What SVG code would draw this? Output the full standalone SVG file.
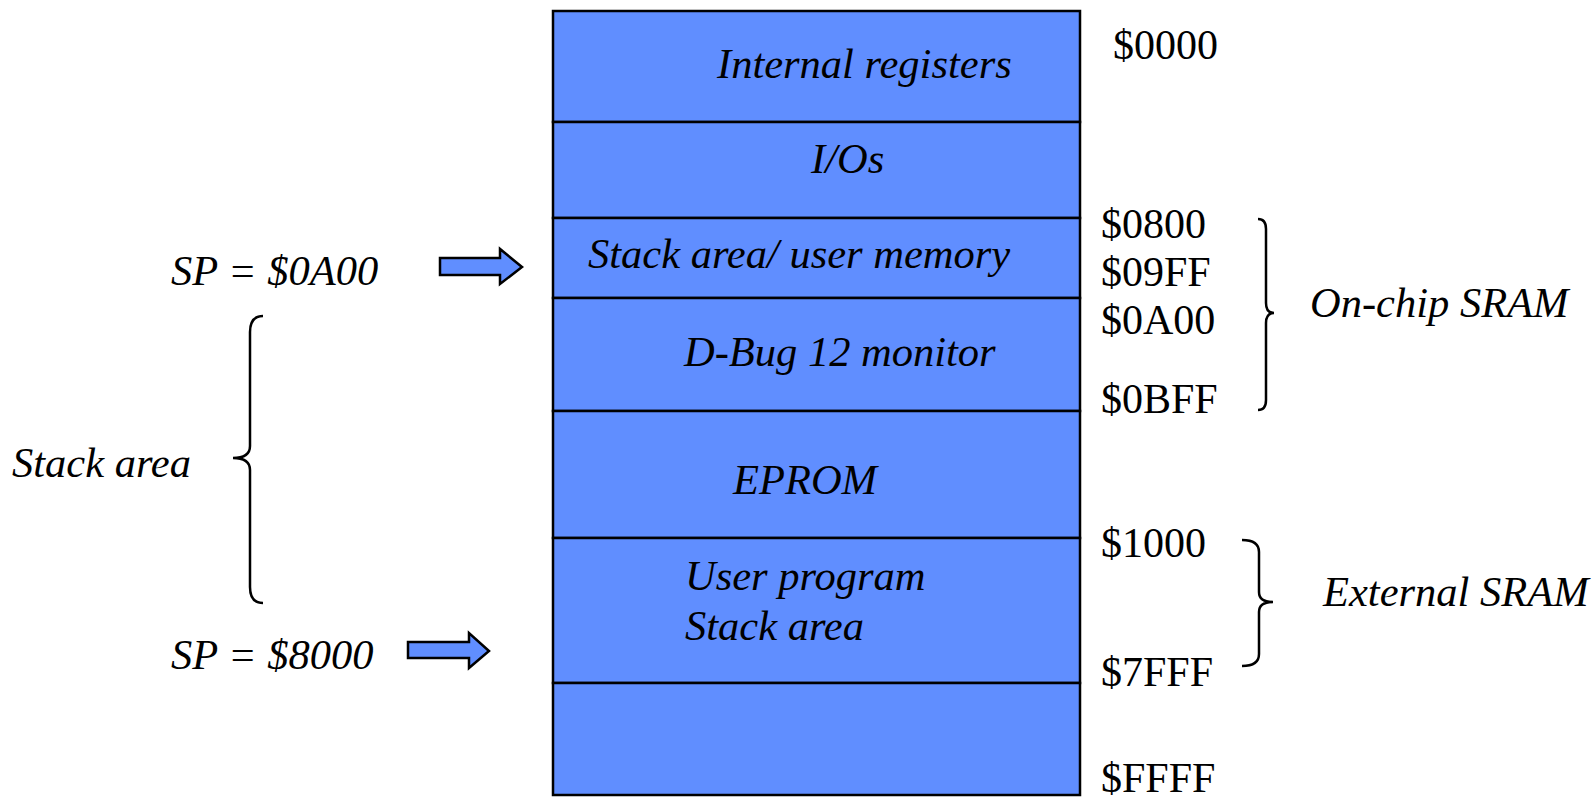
<svg xmlns="http://www.w3.org/2000/svg" width="1596" height="801" viewBox="0 0 1596 801">
<style>
.cell{fill:#608EFF;stroke:#000;stroke-width:2.5}
.it{font-family:"Liberation Serif","Times New Roman",serif;font-style:italic;font-size:42.5px;fill:#000}
.rg{font-family:"Liberation Serif","Times New Roman",serif;font-size:42px;fill:#000}
.brace{fill:none;stroke:#000;stroke-width:2.5}
.arrow{fill:#608EFF;stroke:#000;stroke-width:2.5;stroke-linejoin:miter}
</style>
<rect width="1596" height="801" fill="#fff"/>
<g id="internal-registers"><rect class="cell" x="553" y="11" width="527" height="111"/><text class="it" x="717" y="78">Internal registers</text></g>
<g id="ios"><rect class="cell" x="553" y="122" width="527" height="96"/><text class="it" x="811" y="173">I/Os</text></g>
<g id="stack-user"><rect class="cell" x="553" y="218" width="527" height="80"/><text class="it" x="588" y="268">Stack area/ user memory</text></g>
<g id="dbug"><rect class="cell" x="553" y="298" width="527" height="113"/><text class="it" x="684" y="366">D-Bug 12 monitor</text></g>
<g id="eprom"><rect class="cell" x="553" y="411" width="527" height="127"/><text class="it" x="733" y="494">EPROM</text></g>
<g id="user-program"><rect class="cell" x="553" y="538" width="527" height="145"/><text class="it" x="685" y="590">User program</text><text class="it" x="685" y="640">Stack area</text></g>
<g id="upper"><rect class="cell" x="553" y="683" width="527" height="112"/></g>
<g id="addresses">
<text class="rg" x="1113" y="59">$0000</text>
<text class="rg" x="1101" y="238">$0800</text>
<text class="rg" x="1101" y="286">$09FF</text>
<text class="rg" x="1101" y="334">$0A00</text>
<text class="rg" x="1101" y="413">$0BFF</text>
<text class="rg" x="1101" y="557">$1000</text>
<text class="rg" x="1101" y="686">$7FFF</text>
<text class="rg" x="1101" y="792">$FFFF</text>
</g>
<g id="onchip">
<path class="brace" d="M1258,219 Q1266,219 1266,229 L1266,303 Q1266,313 1274,313 Q1266,313 1266,323 L1266,400 Q1266,410 1258,410"/>
<text class="it" x="1310" y="317">On-chip SRAM</text>
</g>
<g id="external">
<path class="brace" d="M1242,540 Q1259,540 1259,552 L1259,592 Q1259,602 1273,602 Q1259,602 1259,612 L1259,654 Q1259,666 1242,666"/>
<text class="it" x="1323" y="606">External SRAM</text>
</g>
<g id="stack-area-left">
<path class="brace" d="M263,316 Q250,316 250,332 L250,446 Q250,458 233,458 Q250,458 250,470 L250,587 Q250,603 263,603"/>
<text class="it" x="12" y="477">Stack area</text>
</g>
<g id="sp1"><text class="it" x="171" y="285">SP = $0A00</text></g>
<g id="sp2"><text class="it" x="171" y="669">SP = $8000</text></g>
<g id="connectors">
<path class="arrow" d="M440,258 L500,258 L500,249 L522,267 L500,284 L500,275 L440,275 Z"/>
<path class="arrow" d="M408,642 L469,642 L469,633 L489,651 L469,668 L469,658 L408,658 Z"/>
</g>
</svg>
